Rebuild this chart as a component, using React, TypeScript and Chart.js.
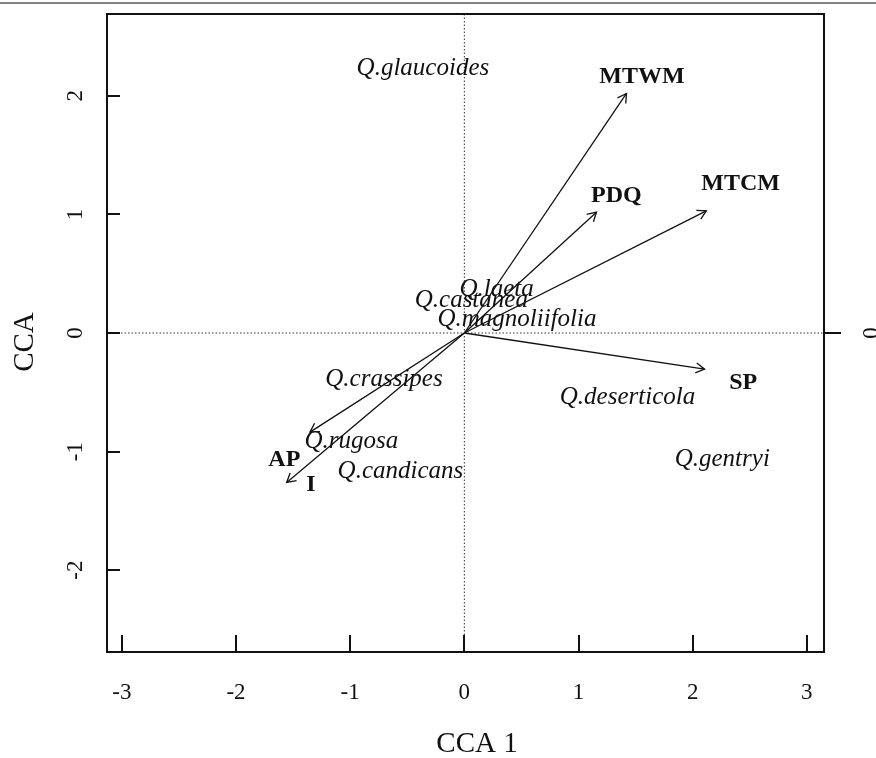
import React, { useEffect, useRef } from "react";
import { Chart, registerables } from "chart.js";
Chart.register(...registerables);

// Environmental vectors (arrow tips) and their label positions
const envNames = ["MTWM", "PDQ", "MTCM", "SP", "AP", "I"];
const envX = [1.42, 1.157, 2.119, 2.104, -1.352, -1.556];
const envY = [2.02, 1.019, 1.03, -0.305, -0.836, -1.26];
const envLabelX = [1.555, 1.332, 2.42, 2.443, -1.577, -1.345];
const envLabelY = [2.175, 1.175, 1.275, -0.409, -1.054, -1.266];

// Species scores
const speciesNames = [
  "Q.glaucoides",
  "Q.laeta",
  "Q.castanea",
  "Q.magnoliifolia",
  "Q.crassipes",
  "Q.deserticola",
  "Q.rugosa",
  "Q.candicans",
  "Q.gentryi",
];
const speciesX = [-0.363, 0.282, 0.061, 0.461, -0.704, 1.429, -0.99, -0.56, 2.259];
const speciesY = [2.245, 0.383, 0.287, 0.132, -0.378, -0.532, -0.903, -1.156, -1.055];

const xTicks = [-3, -2, -1, 0, 1, 2, 3];
const yTicks = [-2, -1, 0, 1, 2];
const xTitle = "CCA 1";
const yTitle = "CCA";

const SERIF = '"Liberation Serif", "DejaVu Serif", serif';

const decorPlugin = {
  id: "decor",
  beforeDatasetsDraw(chart: any) {
    const { ctx, chartArea: a, scales } = chart;
    const xs = scales.x;
    const ys = scales.y;
    ctx.save();
    // top gray rule
    ctx.fillStyle = "#808080";
    ctx.fillRect(0, 2, chart.width, 2);

    // dotted zero lines
    ctx.strokeStyle = "#333";
    ctx.lineWidth = 1;
    ctx.setLineDash([1.5, 2]);
    const x0 = xs.getPixelForValue(0);
    const y0 = ys.getPixelForValue(0);
    ctx.beginPath();
    ctx.moveTo(x0, a.top);
    ctx.lineTo(x0, a.bottom);
    ctx.moveTo(a.left, y0);
    ctx.lineTo(a.right, y0);
    ctx.stroke();
    ctx.setLineDash([]);

    // frame
    ctx.strokeStyle = "#111";
    ctx.lineWidth = 2;
    ctx.strokeRect(a.left, a.top, a.right - a.left, a.bottom - a.top);

    // ticks
    ctx.beginPath();
    xTicks.forEach((t) => {
      const px = Math.round(xs.getPixelForValue(t));
      ctx.moveTo(px, a.bottom);
      ctx.lineTo(px, a.bottom - 17);
    });
    yTicks.forEach((t) => {
      const py = Math.round(ys.getPixelForValue(t));
      ctx.moveTo(a.left, py);
      ctx.lineTo(a.left + 13, py);
    });
    ctx.moveTo(a.right, Math.round(y0));
    ctx.lineTo(a.right + 17, Math.round(y0));
    ctx.stroke();

    // tick labels
    ctx.fillStyle = "#111";
    ctx.font = `23px ${SERIF}`;
    ctx.textAlign = "center";
    ctx.textBaseline = "alphabetic";
    xTicks.forEach((t) => {
      const px = xs.getPixelForValue(t);
      ctx.fillText(String(t), px, 699);
    });
    yTicks.forEach((t) => {
      const py = ys.getPixelForValue(t);
      ctx.save();
      ctx.translate(82, py);
      ctx.rotate(-Math.PI / 2);
      ctx.fillText(String(t), 0, 0);
      ctx.restore();
    });
    // right-side axis label (partly cut off)
    ctx.save();
    ctx.translate(878, y0);
    ctx.rotate(-Math.PI / 2);
    ctx.fillText("0", 0, 0);
    ctx.restore();

    // axis titles
    ctx.font = `29px ${SERIF}`;
    ctx.fillText(xTitle, 477, 752);
    ctx.save();
    ctx.translate(33, 342);
    ctx.rotate(-Math.PI / 2);
    ctx.fillText(yTitle, 0, 0);
    ctx.restore();
    ctx.restore();
  },
  afterDatasetsDraw(chart: any) {
    const { ctx, scales } = chart;
    const xs = scales.x;
    const ys = scales.y;
    ctx.save();
    // arrowheads
    ctx.strokeStyle = "#111";
    ctx.lineWidth = 1.3;
    const x0 = xs.getPixelForValue(0);
    const y0 = ys.getPixelForValue(0);
    envX.forEach((vx, i) => {
      const tx = xs.getPixelForValue(vx);
      const ty = ys.getPixelForValue(envY[i]);
      const ang = Math.atan2(ty - y0, tx - x0);
      const L = 10;
      const spread = Math.PI / 6;
      ctx.beginPath();
      ctx.moveTo(tx - L * Math.cos(ang - spread), ty - L * Math.sin(ang - spread));
      ctx.lineTo(tx, ty);
      ctx.lineTo(tx - L * Math.cos(ang + spread), ty - L * Math.sin(ang + spread));
      ctx.stroke();
    });
    // env labels
    ctx.fillStyle = "#111";
    ctx.textAlign = "center";
    ctx.textBaseline = "alphabetic";
    ctx.font = `bold 24px ${SERIF}`;
    envNames.forEach((n, i) => {
      const px = xs.getPixelForValue(envLabelX[i]);
      const py = ys.getPixelForValue(envLabelY[i]);
      ctx.fillText(n, px, py + 0.33 * 24);
    });
    // species labels
    ctx.font = `italic 25px ${SERIF}`;
    speciesNames.forEach((n, i) => {
      const px = xs.getPixelForValue(speciesX[i]);
      const py = ys.getPixelForValue(speciesY[i]);
      ctx.fillText(n, px, py + 0.33 * 25);
    });
    ctx.restore();
  },
};

export default function App() {
  const ref = useRef<HTMLCanvasElement>(null);
  useEffect(() => {
    document.body.style.margin = "0";
    const canvas = ref.current!;
    const datasets: any[] = envNames.map((n, i) => ({
      label: n,
      data: [
        { x: 0, y: 0 },
        { x: envX[i], y: envY[i] },
      ],
      showLine: true,
      borderColor: "#111",
      borderWidth: 1.3,
      pointRadius: 0,
      fill: false,
    }));
    datasets.push({
      label: "species",
      data: speciesX.map((x, i) => ({ x, y: speciesY[i] })),
      pointRadius: 0,
      showLine: false,
    });
    const chart = new Chart(canvas, {
      type: "scatter",
      data: { datasets },
      options: {
        animation: false,
        responsive: false,
        events: [],
        layout: { padding: { left: 107, top: 14, right: 52, bottom: 106 } },
        plugins: { legend: { display: false }, tooltip: { enabled: false } },
        scales: {
          x: { type: "linear", min: -3.13, max: 3.15, display: false },
          y: { type: "linear", min: -2.69, max: 2.69, display: false },
        },
      },
      plugins: [decorPlugin],
    });
    return () => chart.destroy();
  }, []);
  return (
    <canvas
      ref={ref}
      width={876}
      height={758}
      style={{ display: "block", width: 876, height: 758 }}
    />
  );
}
